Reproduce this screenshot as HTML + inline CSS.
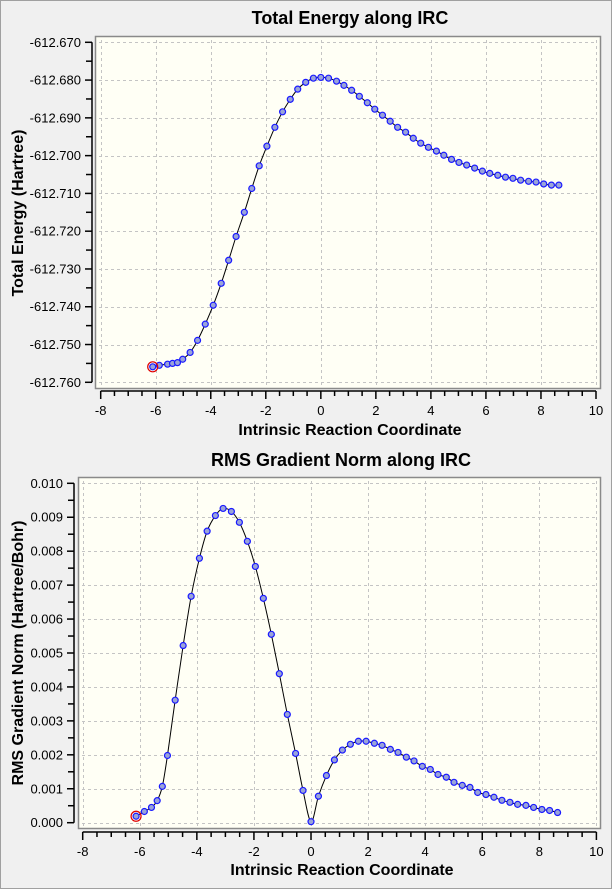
<!DOCTYPE html>
<html><head><meta charset="utf-8"><style>
html,body{margin:0;padding:0;background:#f0f0f0;}
body{width:612px;height:889px;overflow:hidden;position:relative;font-family:"Liberation Sans",sans-serif;}
svg{position:absolute;left:0;top:0;}
</style></head><body>
<svg id="chart" width="612" height="889" xmlns="http://www.w3.org/2000/svg"></svg>
<script>
const energyX=[-6.11,-5.87,-5.57,-5.39,-5.21,-5.02,-4.75,-4.48,-4.20,-3.91,-3.62,-3.35,-3.08,-2.78,-2.51,-2.24,-1.96,-1.67,-1.39,-1.11,-0.84,-0.55,-0.27,0.00,0.28,0.57,0.84,1.12,1.40,1.69,1.96,2.24,2.52,2.79,3.08,3.36,3.63,3.91,4.20,4.47,4.75,5.02,5.30,5.59,5.87,6.14,6.43,6.71,6.98,7.26,7.55,7.82,8.10,8.38,8.65];
const energyY=[-612.7559,-612.7555,-612.7552,-612.7550,-612.7548,-612.7539,-612.7521,-612.7489,-612.7446,-612.7396,-612.7338,-612.7277,-612.7214,-612.7150,-612.7087,-612.7027,-612.6975,-612.6925,-612.6884,-612.6851,-612.6824,-612.6806,-612.6795,-612.6793,-612.6795,-612.6803,-612.6814,-612.6827,-612.6843,-612.6860,-612.6877,-612.6893,-612.6909,-612.6925,-612.6938,-612.6954,-612.6967,-612.6978,-612.6988,-612.6999,-612.7010,-612.7018,-612.7025,-612.7033,-612.7041,-612.7047,-612.7052,-612.7057,-612.7060,-612.7065,-612.7068,-612.7070,-612.7075,-612.7078,-612.7078];
const gradX=[-6.13,-5.84,-5.59,-5.39,-5.21,-5.03,-4.76,-4.48,-4.20,-3.91,-3.64,-3.35,-3.08,-2.79,-2.51,-2.23,-1.95,-1.67,-1.39,-1.11,-0.83,-0.54,-0.28,0.00,0.26,0.54,0.82,1.10,1.38,1.66,1.93,2.22,2.49,2.78,3.05,3.34,3.61,3.90,4.18,4.45,4.74,5.01,5.30,5.57,5.84,6.13,6.41,6.69,6.97,7.24,7.53,7.80,8.09,8.36,8.64];
const gradY=[0.00019,0.00033,0.00045,0.00065,0.00107,0.00198,0.00361,0.00522,0.00667,0.00779,0.00859,0.00905,0.00926,0.00917,0.00885,0.00829,0.00755,0.00661,0.00555,0.00439,0.00319,0.00204,0.00095,0.00003,0.00078,0.00139,0.00185,0.00214,0.00231,0.00240,0.00240,0.00234,0.00228,0.00216,0.00207,0.00193,0.00182,0.00166,0.00157,0.00142,0.00134,0.00119,0.00110,0.00104,0.00089,0.00083,0.00075,0.00066,0.00060,0.00054,0.00051,0.00045,0.00039,0.00036,0.00030];
const xTicks=[-8,-6,-4,-2,0,2,4,6,8,10];
const xTickLabels=["-8","-6","-4","-2","0","2","4","6","8","10"];
const energyTicks=[-612.670,-612.680,-612.690,-612.700,-612.710,-612.720,-612.730,-612.740,-612.750,-612.760];
const energyTickLabels=["-612.670","-612.680","-612.690","-612.700","-612.710","-612.720","-612.730","-612.740","-612.750","-612.760"];
const gradTicks=[0.010,0.009,0.008,0.007,0.006,0.005,0.004,0.003,0.002,0.001,0.000];
const gradTickLabels=["0.010","0.009","0.008","0.007","0.006","0.005","0.004","0.003","0.002","0.001","0.000"];

const NS="http://www.w3.org/2000/svg";
const svg=document.getElementById('chart');
function mk(tag,attrs,parent){const e=document.createElementNS(NS,tag);for(const k in attrs)e.setAttribute(k,attrs[k]);(parent||svg).appendChild(e);return e;}

// window border
const border=mk('rect',{x:0.5,y:0.5,width:611,height:888,fill:'none',stroke:'#a0a0a0','stroke-width':1});



function drawChart(c){
  const g=mk('g',{});
  
  
  const sx=v=>c.x0+(v-c.xmin)/(c.xmax-c.xmin)*(c.x1-c.x0);
  const sy=v=>c.y0+(v-c.ymax)/(c.ymin-c.ymax)*(c.y1-c.y0);
  const t=mk('text',{x:c.titleX,y:c.titleY,'text-anchor':'middle','font-size':18,'font-weight':'bold',fill:'#000'},g);
  t.textContent=c.title;
  
  
  const frame=mk('rect',{x:c.fl+0.5,y:c.ft+0.5,width:c.fr-c.fl,height:c.fb-c.ft,fill:'#fffff5',stroke:'#8a8a8a','stroke-width':1.5},g);
  
  
  const grid=mk('g',{stroke:'#c4c4c4','stroke-width':1,'stroke-dasharray':'3,3'},g);
  
  
  xTicks.forEach(v=>{const x=Math.round(sx(v))+0.5;mk('line',{x1:x,x2:x,y1:c.ft+4,y2:c.fb-2},grid);});
  c.yTicks.forEach(v=>{const y=Math.round(sy(v))+0.5;mk('line',{x1:c.fl+4,x2:c.fr-3,y1:y,y2:y},grid);});
  // y axis
  const ya=mk('g',{stroke:'#000','stroke-width':1.5},g);
  
  
  mk('line',{x1:c.yaxX,x2:c.yaxX,y1:sy(c.yTicks[0]),y2:sy(c.yTicks[c.yTicks.length-1])},ya);
  c.yTicks.forEach((v,i)=>{
    const y=sy(v);
    mk('line',{x1:c.yaxX-7,x2:c.yaxX,y1:y,y2:y},ya);
    if(i<c.yTicks.length-1){const ym=(y+sy(c.yTicks[i+1]))/2;mk('line',{x1:c.yaxX-6,x2:c.yaxX,y1:ym,y2:ym},ya);}
    const tl=mk('text',{x:c.yaxX-11,y:y+4.5,'text-anchor':'end','font-size':13,fill:'#000',stroke:'none'},g);
    tl.textContent=c.yLabels[i];
    
    
  });
  // x axis
  const xa=mk('g',{stroke:'#000','stroke-width':1.5},g);
  
  
  mk('line',{x1:sx(c.xmin),x2:sx(c.xmax),y1:c.xaxY,y2:c.xaxY},xa);
  xTicks.forEach((v,i)=>{
    const x=sx(v);
    mk('line',{x1:x,x2:x,y1:c.xaxY,y2:c.xaxY+8},xa);
    if(i<xTicks.length-1){for(let k=1;k<4;k++){const xm=x+(sx(xTicks[i+1])-x)*k/4;mk('line',{x1:xm,x2:xm,y1:c.xaxY,y2:c.xaxY+5},xa);}}
    const tl=mk('text',{x:x,y:c.xaxY+24,'text-anchor':'middle','font-size':13,fill:'#000',stroke:'none'},g);
    tl.textContent=xTickLabels[i];
    
    
  });
  const xl=mk('text',{x:c.xlabX,y:c.xlabY,'text-anchor':'middle','font-size':16,'font-weight':'bold',fill:'#000'},g);
  xl.textContent='Intrinsic Reaction Coordinate';
  
  
  const yl=mk('text',{x:0,y:0,'text-anchor':'middle','font-size':16,'font-weight':'bold',fill:'#000',transform:`translate(${c.ylabX},${c.ylabY}) rotate(-90)`},g);
  yl.textContent=c.yTitle;
  
  
  // curve (Catmull-Rom)
  const P=c.xs.map((v,i)=>[sx(v),sy(c.ys[i])]);
  let d=`M${P[0][0]},${P[0][1]}`;
  for(let i=0;i<P.length-1;i++){
    const p0=P[Math.max(0,i-1)],p1=P[i],p2=P[i+1],p3=P[Math.min(P.length-1,i+2)];
    d+=` C${p1[0]+(p2[0]-p0[0])/6},${p1[1]+(p2[1]-p0[1])/6} ${p2[0]-(p3[0]-p1[0])/6},${p2[1]-(p3[1]-p1[1])/6} ${p2[0]},${p2[1]}`;
  }
  const line=mk('path',{d:d,fill:'none',stroke:'#000','stroke-width':1},g);
  
  
  P.forEach((p,i)=>{
    const m=mk('circle',{cx:p[0],cy:p[1],r:3,fill:'#9aa4d8',stroke:'#1a1aff','stroke-width':1.2},g);
    
    
  });
  const sel=mk('circle',{cx:P[0][0],cy:P[0][1],r:5,fill:'none',stroke:'#e00000','stroke-width':1.2},g);
  
  
}

drawChart({name:'total-energy-chart',title:'Total Energy along IRC',titleX:350,titleY:24,
  fl:95,fr:600,ft:36,fb:388,x0:100.7,x1:596,xmin:-8,xmax:10,y0:42.3,y1:382.3,ymax:-612.670,ymin:-612.760,
  yTicks:energyTicks,yLabels:energyTickLabels,yaxX:92,xaxY:391,xlabX:350,xlabY:435,
  ylabX:23,ylabY:213,yTitle:'Total Energy (Hartree)',xs:energyX,ys:energyY});
drawChart({name:'rms-gradient-chart',title:'RMS Gradient Norm along IRC',titleX:341,titleY:466,
  fl:78,fr:600,ft:477,fb:828,x0:82.7,x1:596.4,xmin:-8,xmax:10,y0:483.3,y1:822.7,ymax:0.010,ymin:0,
  yTicks:gradTicks,yLabels:gradTickLabels,yaxX:74,xaxY:832,xlabX:342,xlabY:875,
  ylabX:23,ylabY:653,yTitle:'RMS Gradient Norm (Hartree/Bohr)',xs:gradX,ys:gradY});
</script>
</body></html>
